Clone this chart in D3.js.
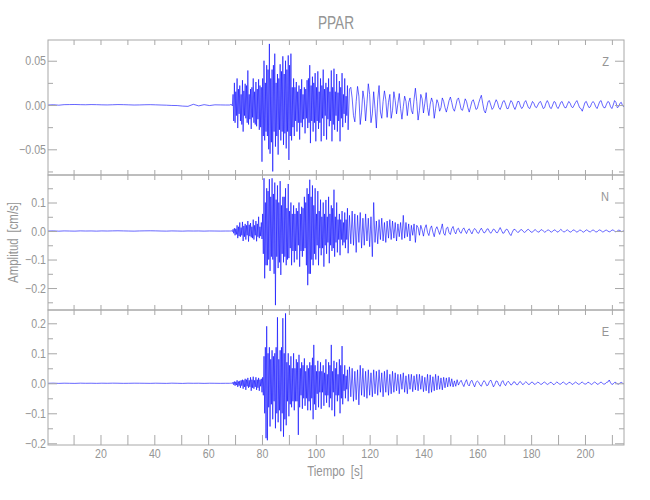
<!DOCTYPE html>
<html><head><meta charset="utf-8">
<script src="https://cdn.jsdelivr.net/npm/d3@7"></script>
<style>
body{margin:0;background:#fff}
text{font-family:"Liberation Sans Narrow","Arial Narrow","Liberation Sans",Arial,sans-serif;fill:#959595}
</style>
</head><body>
<svg id="chart" width="650" height="500"></svg>
<script>
// ---- sampling of the traces ----
const preStart = 0.5, preStep = 2;        // pre-event samples (s)
const burstStart = 68, burstStep = 0.25;  // strong-motion samples (s)
const mainStart = 112, mainStep = 0.5;    // later samples (s)

// ---- Z component (cm/s) ----
const zPre = [0,0.0003,-0.0002,0.0004,0.0005,0.0006,0.0004,0.0003,0.0005,0.0004,
  0.0002,0.0001,0.0003,0.0005,0.0004,0.0002,0,0.0001,0.0003,0.0004,
  0.0002,0,-0.0002,-0.0005,-0.0006,-0.0012,-0.0015,0.0008,-0.001,0.0004,
  -0.0006,0.0002,0.0001,0];
const zBurst = [
  0.000,0.000,0.001,0.000,-0.001,0.012,-0.018,0.025,
  -0.020,0.015,-0.012,0.030,-0.026,0.018,-0.010,0.022,
  -0.018,0.012,-0.022,0.028,-0.030,0.016,-0.012,0.024,
  -0.015,0.022,-0.020,0.039,-0.022,0.012,-0.016,0.018,
  -0.027,0.020,-0.014,0.030,-0.020,0.015,-0.022,0.026,
  -0.024,0.018,-0.016,0.029,-0.028,0.022,-0.025,0.020,
  -0.064,0.030,-0.035,0.050,-0.040,0.025,-0.030,0.045,
  -0.035,0.040,-0.050,0.069,-0.055,0.030,-0.042,0.040,
  -0.075,0.045,-0.030,0.058,-0.047,0.025,-0.035,0.035,
  -0.056,0.030,-0.028,0.046,-0.040,0.038,-0.030,0.055,
  -0.045,0.035,-0.032,0.050,-0.049,0.040,-0.030,0.056,
  -0.062,0.045,-0.035,0.058,-0.040,0.020,-0.025,0.030,
  -0.035,0.020,-0.018,0.026,-0.030,0.015,-0.020,0.022,
  -0.039,0.018,-0.020,0.029,-0.025,0.012,-0.016,0.020,
  -0.032,0.018,-0.015,0.028,-0.026,0.030,-0.020,0.045,
  -0.043,0.022,-0.018,0.032,-0.030,0.025,-0.020,0.036,
  -0.041,0.020,-0.018,0.038,-0.027,0.015,-0.020,0.030,
  -0.041,0.022,-0.015,0.040,-0.035,0.018,-0.012,0.025,
  -0.039,0.020,-0.016,0.030,-0.024,0.015,-0.018,0.039,
  -0.041,0.020,-0.022,0.041,-0.028,0.015,-0.012,0.035,
  -0.030,0.014,-0.018,0.027,-0.041,0.020,-0.015,0.036,
  -0.025,0.012,-0.010,0.030,-0.020,0.010,-0.012,0.022];
const zMain = [
  -0.028,0.018,
  0.020,0.008,-0.012,-0.019,0.004,0.021,0.010,-0.022,-0.008,0.016,
  0.006,-0.018,0.002,0.024,0.012,-0.020,-0.010,0.015,-0.004,-0.026,
  0.006,0.022,-0.008,-0.015,0.004,0.016,0.006,-0.014,0.003,0.012,
  -0.015,-0.006,0.015,0.005,-0.010,0.002,0.013,-0.004,-0.016,-0.002,
  0.010,0.004,-0.012,0.003,0.008,-0.006,-0.010,0.006,0.019,0.004,
  -0.017,-0.006,0.012,0.007,-0.009,0.002,0.014,-0.003,-0.012,0.001,
  0.008,0.003,-0.015,-0.004,0.006,0.002,-0.007,-0.003,0.008,0.004,
  -0.003,-0.008,-0.002,0.005,0.009,0.003,-0.004,-0.007,-0.001,0.006,
  0.008,0.002,-0.005,-0.006,0.000,0.007,0.004,-0.003,-0.008,-0.002,
  0.004,0.006,0.001,-0.005,-0.004,0.002,0.007,0.011,0.002,-0.006,
  -0.009,-0.003,0.004,0.005,0.000,-0.005,-0.003,0.002,0.006,0.003,
  -0.003,-0.005,-0.001,0.004,0.005,0.001,-0.004,-0.004,0.001,0.005,
  0.003,-0.002,-0.005,-0.001,0.004,0.004,-0.001,-0.004,-0.002,0.003,
  0.005,0.001,-0.003,-0.004,0.000,0.004,0.002,-0.002,-0.003,0.000,
  0.003,0.004,0.000,-0.004,-0.003,0.002,0.005,0.002,-0.003,-0.004,
  0.000,0.004,0.003,-0.002,-0.004,-0.001,0.003,0.004,0.000,-0.003,
  -0.003,0.001,0.004,0.002,-0.002,-0.003,0.000,0.003,0.005,0.001,
  -0.003,-0.004,-0.007,-0.002,0.003,0.004,0.000,-0.003,-0.002,0.002,
  0.004,0.002,-0.002,-0.004,0.000,0.004,0.005,0.000,-0.003,-0.003,
  0.001,0.004,0.003,-0.002,-0.004,0.000,0.005,0.003,-0.003,-0.002,
  0.002,0.003,-0.001,-0.002];

// ---- N component (cm/s) ----
const nPre = [0,0.0005,-0.0005,0.0004,0,-0.0004,0.0005,0,0.0003,-0.0003,
  0.0004,0,0.0005,0.0008,0.0004,0,-0.0004,0.0003,0.0006,0.0008,
  0.0005,0,-0.0003,0.0004,0,-0.0004,0.0003,0,0.0002,-0.0003,
  0.0002,0,-0.0002,0];
const nBurst = [
  0.000,0.000,0.000,0.001,-0.002,0.006,-0.008,0.010,
  -0.015,0.008,-0.012,0.020,-0.025,0.015,-0.018,0.030,
  -0.020,0.012,-0.015,0.032,-0.035,0.018,-0.020,0.025,
  -0.030,0.020,-0.015,0.035,-0.037,0.022,-0.018,0.028,
  -0.022,0.015,-0.025,0.040,-0.030,0.020,-0.015,0.035,
  -0.036,0.025,-0.020,0.050,-0.025,0.015,-0.018,0.030,
  -0.028,0.060,-0.080,0.185,-0.166,0.100,-0.120,0.150,
  -0.120,0.140,-0.100,0.182,-0.140,0.120,-0.090,0.185,
  -0.100,0.130,-0.150,0.170,-0.260,0.110,-0.090,0.160,
  -0.130,0.100,-0.110,0.175,-0.154,0.090,-0.080,0.120,
  -0.110,0.120,-0.090,0.150,-0.120,0.080,-0.100,0.165,
  -0.095,0.070,-0.060,0.100,-0.120,0.060,-0.070,0.090,
  -0.110,0.060,-0.070,0.080,-0.100,0.070,-0.050,0.100,
  -0.125,0.060,-0.070,0.085,-0.090,0.080,-0.070,0.120,
  -0.060,0.100,-0.120,0.150,-0.190,0.130,-0.150,0.180,
  -0.150,0.120,-0.100,0.160,-0.120,0.090,-0.080,0.150,
  -0.100,0.060,-0.050,0.140,-0.120,0.070,-0.060,0.110,
  -0.085,0.050,-0.060,0.100,-0.125,0.060,-0.050,0.109,
  -0.080,0.050,-0.040,0.120,-0.113,0.060,-0.050,0.090,
  -0.070,0.080,-0.060,0.145,-0.090,0.050,-0.040,0.100,
  -0.075,0.040,-0.030,0.060,-0.085,0.040,-0.030,0.070,
  -0.050,0.030,-0.040,0.065,-0.060,0.040,-0.030,0.080];
const nMain = [
  -0.078,0.055,
  -0.045,0.070,-0.050,0.060,-0.075,0.055,-0.040,0.065,-0.060,0.045,
  -0.050,0.060,-0.035,0.045,-0.055,0.050,-0.090,0.100,-0.040,0.035,
  -0.045,0.040,-0.030,0.045,-0.035,0.030,-0.040,0.035,-0.025,0.040,
  -0.030,0.035,-0.025,0.030,-0.035,0.025,-0.020,0.030,-0.030,0.055,
  -0.025,0.030,-0.020,0.025,-0.035,0.020,-0.015,0.025,-0.040,0.020,
  0.012,-0.015,0.020,0.004,-0.018,0.010,0.022,-0.005,-0.016,0.008,
  0.018,-0.004,-0.020,0.006,0.015,0.002,-0.012,0.005,0.025,-0.008,
  -0.015,0.010,0.014,-0.006,-0.012,0.008,0.016,-0.002,-0.010,0.006,
  0.010,-0.004,-0.008,0.005,0.011,0.000,-0.009,0.003,0.008,-0.002,
  -0.010,0.002,0.009,0.004,-0.006,-0.008,0.003,0.010,0.001,-0.007,
  -0.004,0.006,0.008,-0.002,-0.008,-0.001,0.007,0.004,-0.005,-0.006,
  0.003,0.012,0.002,-0.008,-0.006,0.004,0.007,0.000,-0.010,-0.016,
  -0.004,0.005,0.006,0.000,-0.005,-0.003,0.004,0.005,-0.001,-0.005,
  -0.002,0.004,0.006,0.001,-0.004,-0.004,0.002,0.005,0.001,-0.004,
  -0.003,0.003,0.005,0.000,-0.004,-0.002,0.003,0.004,-0.001,-0.004,
  -0.001,0.004,0.003,-0.002,-0.004,0.001,0.006,0.002,-0.003,-0.003,
  0.002,0.004,0.000,-0.004,-0.002,0.003,0.004,-0.001,-0.004,-0.001,
  0.003,0.003,-0.002,-0.004,0.000,0.004,0.002,-0.002,-0.003,0.001,
  0.004,0.001,-0.003,-0.003,0.002,0.004,0.001,-0.003,-0.002,0.002,
  0.003,0.000,-0.003,-0.001,0.003,0.004,-0.001,-0.003,0.000,0.003,
  0.002,-0.002,-0.001,0.001];

// ---- E component (cm/s) ----
const ePre = [0,0.0004,-0.0003,0.0003,0,-0.0003,0.0004,0,0.0002,-0.0002,
  0.0003,0,0.0004,0.0002,-0.0002,0,0.0003,0.0002,0,-0.0002,
  0.0003,0,-0.0003,0.0004,0,-0.0004,0.0003,0,0.0002,-0.0003,
  0.0002,0,-0.0002,0];
const eBurst = [
  0.000,0.000,0.001,0.000,-0.001,0.004,-0.005,0.006,
  -0.008,0.005,-0.006,0.010,-0.012,0.006,-0.008,0.008,
  -0.015,0.010,-0.008,0.012,-0.018,0.010,-0.012,0.015,
  -0.022,0.012,-0.010,0.018,-0.015,0.010,-0.012,0.020,
  -0.025,0.012,-0.015,0.022,-0.018,0.010,-0.012,0.020,
  -0.022,0.012,-0.015,0.018,-0.025,0.012,-0.010,0.015,
  -0.030,0.020,-0.040,0.090,-0.100,0.120,-0.183,0.190,
  -0.190,0.100,-0.080,0.120,-0.144,0.080,-0.070,0.110,
  -0.120,0.090,-0.060,0.100,-0.150,0.120,-0.100,0.220,
  -0.130,0.080,-0.090,0.110,-0.160,0.120,-0.100,0.217,
  -0.178,0.100,-0.120,0.233,-0.140,0.070,-0.060,0.100,
  -0.110,0.060,-0.070,0.090,-0.080,0.050,-0.060,0.100,
  -0.090,0.050,-0.060,0.080,-0.060,0.070,-0.172,0.095,
  -0.080,0.050,-0.040,0.070,-0.085,0.060,-0.050,0.083,
  -0.075,0.040,-0.050,0.060,-0.090,0.050,-0.060,0.070,
  -0.090,0.060,-0.050,0.085,-0.120,0.128,-0.070,0.060,
  -0.089,0.040,-0.035,0.075,-0.080,0.040,-0.030,0.070,
  -0.085,0.040,-0.030,0.060,-0.075,0.035,-0.040,0.080,
  -0.065,0.030,-0.040,0.070,-0.080,0.060,-0.050,0.128,
  -0.090,0.040,-0.030,0.075,-0.110,0.050,-0.040,0.070,
  -0.060,0.030,-0.040,0.080,-0.100,0.060,-0.050,0.124,
  -0.070,0.030,-0.025,0.060,-0.050,0.025,-0.020,0.045];
const eMain = [
  -0.060,0.055,
  -0.045,0.050,-0.060,0.040,-0.055,0.045,-0.072,0.060,-0.040,0.050,
  -0.045,0.040,-0.050,0.045,-0.040,0.035,-0.045,0.045,-0.035,0.040,
  -0.040,0.045,-0.030,0.035,-0.045,0.040,-0.030,0.045,-0.040,0.030,
  -0.035,0.040,-0.030,0.035,-0.025,0.030,-0.035,0.030,-0.020,0.035,
  -0.030,0.025,-0.035,0.030,-0.020,0.030,-0.028,0.025,-0.022,0.030,
  -0.025,0.030,-0.020,0.025,-0.028,0.020,-0.025,0.030,-0.033,0.028,
  -0.030,0.022,-0.025,0.030,-0.022,0.025,-0.020,0.018,-0.022,0.020,
  -0.015,0.018,-0.012,0.020,-0.010,0.015,-0.012,0.008,-0.010,0.012,
  -0.006,0.004,0.010,-0.002,-0.011,0.003,0.012,-0.004,-0.009,0.006,
  0.010,-0.002,-0.012,0.002,0.008,0.004,-0.006,-0.010,0.002,0.009,
  0.003,-0.008,-0.006,0.006,0.011,0.000,-0.012,-0.004,0.008,0.006,
  -0.006,-0.010,0.004,0.009,-0.002,-0.008,0.002,0.007,0.001,-0.006,
  -0.003,0.005,0.004,-0.004,-0.005,0.003,0.006,-0.001,-0.005,0.001,
  0.005,0.002,-0.004,-0.003,0.003,0.004,-0.002,-0.004,0.001,0.004,
  0.001,-0.003,-0.003,0.002,0.004,0.000,-0.004,-0.002,0.003,0.003,
  -0.002,-0.005,0.000,0.004,0.002,-0.003,-0.003,0.002,0.004,0.000,
  -0.004,-0.002,0.003,0.003,-0.002,-0.004,0.001,0.004,0.001,-0.003,
  -0.003,0.002,0.004,0.000,-0.003,-0.002,0.003,0.003,-0.002,-0.004,
  0.000,0.004,0.002,-0.003,-0.003,0.002,0.004,0.000,-0.003,-0.002,
  0.003,0.004,0.011,0.002,-0.004,-0.002,0.003,0.003,-0.002,-0.003,
  0.001,0.003,0.000,-0.002];

// ---- axes ----
const xDomain = [0.5, 214.5];
const xMinorTicks = [10,20,30,40,50,60,70,80,90,100,110,120,130,140,150,160,170,180,190,200,210];
const xLabelTicks = [20,40,60,80,100,120,140,160,180,200];

const componentNames = ["Z","N","E"];
const yDomains = [[-0.079,0.0734],[-0.277,0.1965],[-0.2057,0.2443]];
const yMajorTicks = [[-0.05,0,0.05],[-0.2,-0.1,0,0.1],[-0.2,-0.1,0,0.1,0.2]];
const yMajorLabels = [["\u22120.05","0.00","0.05"],["\u22120.2","\u22120.1","0.0","0.1"],["\u22120.2","\u22120.1","0.0","0.1","0.2"]];
const yMinorTicks = [[-0.075,-0.025,0.025],[-0.25,-0.15,-0.05,0.05,0.15],[-0.15,-0.05,0.05,0.15]];
const preSeries = [zPre,nPre,ePre];
const burstSeries = [zBurst,nBurst,eBurst];
const mainSeries = [zMain,nMain,eMain];

const titleText = "PPAR";
const xTitle = "Tiempo\u2002[s]";
const yTitle = "Amplitud\u2002[cm/s]";

// ---- layout ----
const L = 48, R = 624, panelTops = [40,175,310], panelH = 135;
const svg = d3.select("#chart");
const frame = "#a8a8a8";

const x = d3.scaleLinear().domain(xDomain).range([L,R]);

// narrow a text element horizontally (the original uses a condensed stroke font)
function narrow(sel, f){
  sel.each(function(){
    const w = this.getComputedTextLength();
    if (w > 0) d3.select(this).attr("textLength", w*f).attr("lengthAdjust","spacingAndGlyphs");
  });
}

svg.append("text").attr("x",(L+R)/2).attr("y",29).attr("text-anchor","middle")
  .style("font-size","19px").text(titleText).call(narrow,0.72);

const line = d3.line().x(d=>x(d.t)).y(d=>d.y);

componentNames.forEach((name,k)=>{
  const top = panelTops[k], bot = top+panelH;
  const y = d3.scaleLinear().domain(yDomains[k]).range([bot,top]);
  const g = svg.append("g");

  g.append("clipPath").attr("id","clip"+k).append("rect")
    .attr("x",L).attr("y",top).attr("width",R-L).attr("height",panelH);

  const pts = [];
  preSeries[k].forEach((v,i)=>pts.push({t:preStart+i*preStep, y:y(v)}));
  burstSeries[k].forEach((v,i)=>pts.push({t:burstStart+i*burstStep, y:y(v)}));
  mainSeries[k].forEach((v,i)=>pts.push({t:mainStart+i*mainStep, y:y(v)}));

  g.append("path").attr("clip-path","url(#clip"+k+")")
    .attr("d",line(pts)).attr("fill","none").attr("stroke","#0000ff")
    .attr("stroke-width",0.6).attr("stroke-linejoin","miter");

  const styleAxis = sel => {
    sel.select(".domain").remove();
    sel.selectAll(".tick line").attr("stroke",frame);
    sel.selectAll(".tick text").style("font-size","12.5px").attr("fill","#959595").call(narrow,0.85);
  };
  g.append("g").attr("transform",`translate(${L},0)`)
    .call(d3.axisLeft(y).tickValues(yMajorTicks[k]).tickSize(-9).tickPadding(2)
      .tickFormat((d,i)=>yMajorLabels[k][i])).call(styleAxis);
  g.append("g").attr("transform",`translate(${L},0)`)
    .call(d3.axisLeft(y).tickValues(yMinorTicks[k]).tickSize(-5).tickFormat("")).call(styleAxis);
  g.append("g").attr("transform",`translate(${R},0)`)
    .call(d3.axisRight(y).tickValues(yMajorTicks[k]).tickSize(-9).tickFormat("")).call(styleAxis);
  g.append("g").attr("transform",`translate(${R},0)`)
    .call(d3.axisRight(y).tickValues(yMinorTicks[k]).tickSize(-5).tickFormat("")).call(styleAxis);

  g.append("g").attr("transform",`translate(0,${top})`)
    .call(d3.axisTop(x).tickValues(xMinorTicks).tickSize(-5).tickFormat("")).call(styleAxis);
  if (k < 2) {
    g.append("g").attr("transform",`translate(0,${bot})`)
      .call(d3.axisBottom(x).tickValues(xMinorTicks).tickSize(-5).tickFormat("")).call(styleAxis);
  } else {
    g.append("g").attr("transform",`translate(0,${bot})`)
      .call(d3.axisBottom(x).tickValues(xMinorTicks).tickSize(-10).tickFormat("")).call(styleAxis);
    g.append("g").attr("transform",`translate(0,${bot})`)
      .call(d3.axisBottom(x).tickValues(xLabelTicks).tickSize(0).tickPadding(4)).call(styleAxis);
  }

  g.append("rect").attr("x",L).attr("y",top).attr("width",R-L).attr("height",panelH)
    .attr("fill","none").attr("stroke",frame).attr("stroke-width",1);

  g.append("text").attr("x",R-15).attr("y",top+26).attr("text-anchor","end")
    .style("font-size","13px").text(name).call(narrow,0.85);
});

svg.append("text").attr("x",(L+R)/2 - 1).attr("y",476).attr("text-anchor","middle")
  .style("font-size","14px").text(xTitle).call(narrow,0.82);
svg.append("text").attr("transform",`translate(18,${panelTops[1]+panelH/2}) rotate(-90)`)
  .attr("text-anchor","middle").style("font-size","14px").text(yTitle).call(narrow,0.82);
</script>
</body></html>
